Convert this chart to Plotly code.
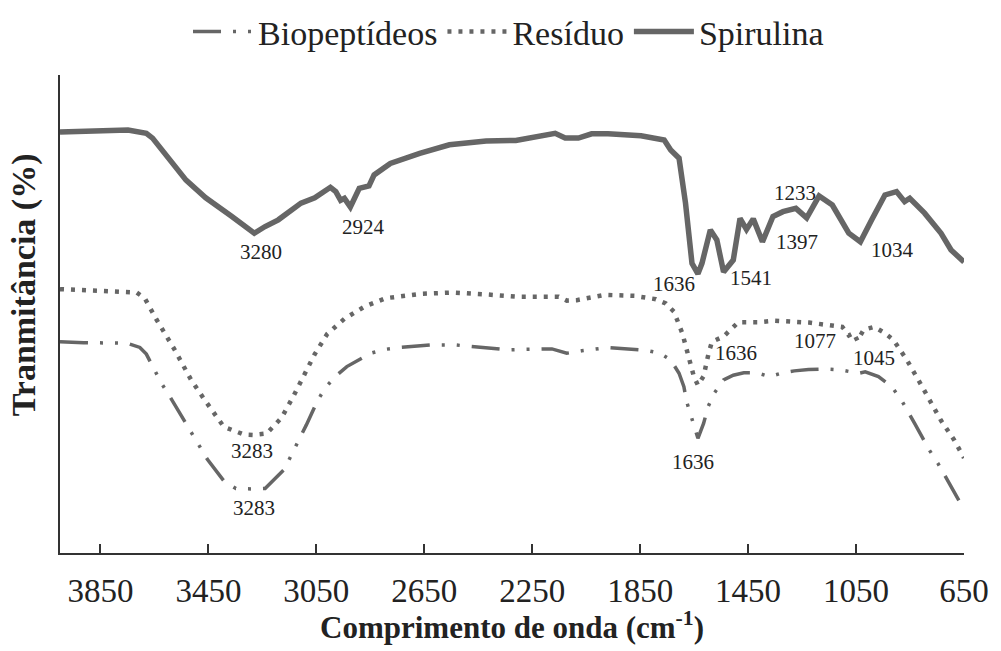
import plotly.graph_objects as go

# ---- data (wavenumber cm-1, transmittance in arbitrary % units) ----
sp_w = [4000,3748,3680,3657,3533,3460,3363,3327,3280,3240,3191,3107,3056,2998,2978,2960,2946,2924,2891,2855,
        2836,2776,2667,2557,2421,2311,2226,2165,2128,2079,2030,1969,1847,1761,1737,1706,1682,1658,1636,1621,
        1590,1566,1541,1505,1480,1456,1431,1397,1358,1321,1273,1233,1187,1138,1077,1034,992,943,900,870,
        851,796,735,698,650]
sp_t = [88.1,88.5,87.8,86.8,78.0,74.3,70.4,69.0,66.9,68.3,69.7,73.2,74.3,76.5,75.6,73.8,74.2,72.4,76.3,76.8,
        79.1,81.5,83.6,85.4,86.2,86.3,87.1,87.8,86.8,86.8,87.7,87.7,87.3,86.4,84.3,82.6,73.2,60.6,58.4,60.6,
        67.6,65.5,58.8,61.3,70.0,67.7,69.9,65.1,70.4,71.4,72.1,70.1,74.7,72.8,66.9,65.1,69.7,74.9,75.6,73.5,
        74.2,71.1,66.9,63.4,60.9]

rs_w = [4000,3716,3686,3643,3576,3515,3466,3393,3319,3283,3234,3179,3136,3097,3056,3010,2946,2873,2794,2666,
        2543,2421,2299,2152,2122,2085,1981,1871,1792,1755,1725,1694,1670,1651,1636,1615,1596,1584,1541,1486,
        1407,1352,1224,1101,1077,1059,1045,1022,982,946,912,863,820,778,735,686,650]
rs_t = [55.2,54.5,53.3,48.9,42.6,36.3,32.2,26.4,24.8,24.7,25.0,28.3,32.7,37.2,41.6,45.8,49.0,51.5,53.3,54.2,
        54.5,54.1,53.6,53.6,52.8,52.9,54.0,53.8,53.1,52.2,50.5,46.0,41.2,36.9,35.1,37.0,41.9,44.2,45.3,48.3,
        48.3,48.6,48.2,47.3,45.5,46.0,44.4,46.7,47.3,46.1,44.6,40.5,36.3,32.0,27.7,23.6,19.9]

bp_w = [4000,3912,3753,3704,3680,3652,3625,3597,3543,3514,3482,3454,3393,3348,3283,3240,3169,3142,3118,3087,
        3047,3018,2980,2937,2849,2796,2739,2629,2531,2421,2336,2275,2177,2122,2067,1969,1883,1828,1777,1737,
        1706,1688,1678,1661,1636,1615,1599,1576,1541,1505,1466,1419,1370,1321,1279,1226,1169,1108,1040,1016,
        967,918,882,833,778,747,698,668,650]
bp_t = [44.2,44.0,43.9,43.0,41.6,38.6,35.6,33.1,28.0,25.2,22.4,19.6,15.1,13.5,13.4,13.5,17.5,20.5,23.3,26.8,
        31.7,34.5,36.9,39.0,41.8,42.6,43.0,43.5,43.5,43.0,42.5,42.6,42.7,41.8,42.3,43.0,42.6,42.4,41.8,40.4,
        37.6,34.8,31.7,28.5,24.0,27.1,30.5,33.4,36.2,37.2,37.7,37.7,36.9,37.7,38.1,38.4,38.5,38.3,37.6,37.9,
        36.9,34.8,32.0,27.1,21.5,18.8,13.9,10.9,9.8]

peak_labels = ["3280", "2924", "1636", "1541", "1397", "1233", "1034",
               "3283", "1636", "1077", "1045",
               "3283", "1636"]
peak_x = [3255, 2876, 1725, 1441, 1270, 1276, 916,
          3289, 1496, 1202, 985,
          3280, 1655]
peak_y = [63.0, 68.3, 56.3, 57.5, 65.0, 75.3, 63.4,
          21.3, 41.8, 44.4, 40.9,
          9.4, 19.1]

x_ticks = [3850, 3450, 3050, 2650, 2250, 1850, 1450, 1050, 650]

FONT = "Liberation Serif"
GREY = "#666666"

fig = go.Figure()
fig.add_trace(go.Scatter(x=bp_w, y=bp_t, mode="lines", name="Biopeptídeos",
                         line=dict(color=GREY, width=3.5, dash="28px,12px,3px,12px,3px,12px")))
fig.add_trace(go.Scatter(x=rs_w, y=rs_t, mode="lines", name="Resíduo",
                         line=dict(color=GREY, width=4.5, dash="4px,7px")))
fig.add_trace(go.Scatter(x=sp_w, y=sp_t, mode="lines", name="Spirulina",
                         line=dict(color=GREY, width=5.5)))

for t, x, y in zip(peak_labels, peak_x, peak_y):
    fig.add_annotation(x=x, y=y, text=t, showarrow=False,
                       font=dict(family=FONT, size=21, color="#222222"))

fig.add_annotation(text="Comprimento de onda (cm<sup>-1</sup>)", xref="paper", yref="paper",
                   x=0.5, y=-(625 - 553) / 478, xanchor="center", yanchor="middle", showarrow=False,
                   font=dict(family=FONT, size=31, color="#222222", weight="bold"))
fig.add_annotation(text="Tranmitância (%)", xref="paper", yref="paper", textangle=-90,
                   x=(24 - 60) / 913, y=(553 - 285) / 478, xanchor="center", yanchor="middle",
                   showarrow=False,
                   font=dict(family=FONT, size=34, color="#222222", weight="bold"))

fig.update_layout(
    width=1001, height=651,
    margin=dict(l=60, r=28, t=75, b=98),
    paper_bgcolor="white", plot_bgcolor="white",
    font=dict(family=FONT, color="#222222"),
    showlegend=True,
    legend=dict(orientation="h", xref="container", yref="container",
                x=0.508, y=1 - 32 / 651, xanchor="center", yanchor="middle",
                font=dict(family=FONT, size=34, color="#222222"),
                itemwidth=60, bgcolor="rgba(0,0,0,0)"),
    xaxis=dict(range=[4000, 650], tickvals=x_ticks, ticktext=[str(v) for v in x_ticks],
               ticks="inside", ticklen=9, tickwidth=1.5, tickcolor="#333333",
               showline=True, linecolor="#333333", linewidth=1.5,
               showgrid=False, zeroline=False,
               tickfont=dict(family=FONT, size=33, color="#222222"),
               ticklabelstandoff=8),
    yaxis=dict(range=[0, 100], showticklabels=False, ticks="",
               showline=True, linecolor="#333333", linewidth=1.5,
               showgrid=False, zeroline=False),
)

fig.write_html("out.html")
